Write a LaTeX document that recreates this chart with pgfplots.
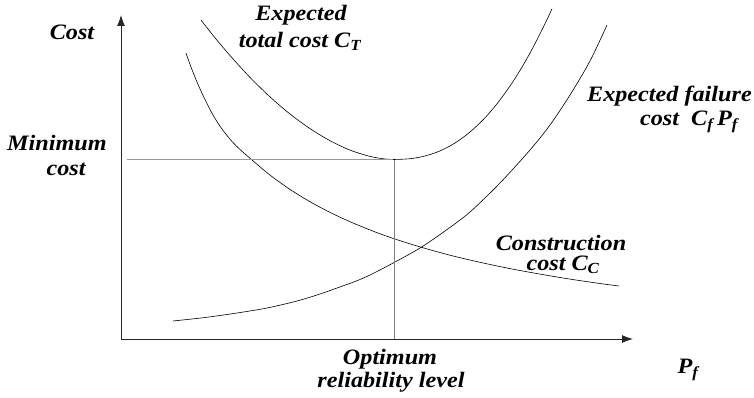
\documentclass[border=0pt]{standalone}
\usepackage{pgfplots}
\pgfplotsset{compat=1.18}
\usetikzlibrary{arrows.meta}
\usepackage{fontspec}
\setmainfont{Liberation Serif}[FakeStretch=1.1]
\tikzset{lbl/.style={font=\fontsize{22}{24}\selectfont\bfseries\itshape, inner sep=0pt}}
\begin{document}
\begin{tikzpicture}
\begin{axis}[
  scale only axis, width=512pt, height=324pt,
  xmin=121, xmax=633, ymin=0, ymax=324,
  axis lines=left, axis line style={-{Latex[length=11pt,width=8pt]}, line width=0.9pt, black!85},
  ticks=none, clip=false,
]
% bounding frame matching the 754x397 reference
\path (axis cs:0,-58) rectangle (axis cs:754,339);
% construction cost
\addplot[smooth, tension=0.5, black, line width=0.6pt] coordinates {
 (186,286) (191,272) (197,257) (204,241.5) (213,224) (222,210) (232,197.5) (240,189.5)
 (252,179) (270,163.9) (290,149.6) (310,137.3) (330,126.6) (350,117.3) (375,107.1)
 (395,100) (420,92.1) (450,83.8) (480,76.7) (510,70.4) (540,64.9) (570,59.9) (600,55.5) (619,53)};
% expected failure cost
\addplot[smooth, tension=0.5, black, line width=0.6pt] coordinates {
 (173,18) (205,21.5) (237,26) (267,31) (297,38) (320,45) (337,51) (355,57.5) (370,64)
 (395,77) (420,91) (445,108) (470,127) (500,156) (530,189) (550,214) (570,244)
 (590,278) (607,314)};
% expected total cost
\addplot[smooth, tension=0.5, black, line width=0.6pt] coordinates {
 (201,319) (215,301.2) (230,283.5) (250,261.6) (270,242.1) (290,225.0) (310,210.4)
 (330,198.3) (350,188.9) (370,182.6) (385,180.0) (393,179.5) (410,180.3) (425,183.0)
 (440,188.1) (455,196.0) (470,207) (485,221.2) (500,239.1) (515,260.5) (530,285.9)
 (545,315.2) (552,330.3)};
% guide lines
\addplot[gray!80, line width=0.5pt] coordinates {(127,179.5) (393,179.5)};
\addplot[gray, line width=0.6pt] coordinates {(394,179.5) (394,0)};
% labels
\node[lbl] at (axis cs:72,307) {Cost};
\node[lbl] at (axis cs:301,324) {Expected};
\node[lbl] at (axis cs:300,298) {total cost C\textsubscript{T}};
\node[lbl] at (axis cs:57,196) {Minimum};
\node[lbl] at (axis cs:66,170) {cost};
\node[lbl, anchor=east] at (axis cs:752,243) {Expected failure};
\node[lbl] at (axis cs:689,217) {cost\ \ C\textsubscript{f}\,P\textsubscript{f}};
\node[lbl] at (axis cs:561,96) {Construction};
\node[lbl] at (axis cs:563,74) {cost C\textsubscript{C}};
\node[lbl] at (axis cs:390,-20) {Optimum};
\node[lbl] at (axis cs:391,-43) {reliability level};
\node[lbl] at (axis cs:688,-31) {P\textsubscript{f}};
\end{axis}
\end{tikzpicture}
\end{document}
